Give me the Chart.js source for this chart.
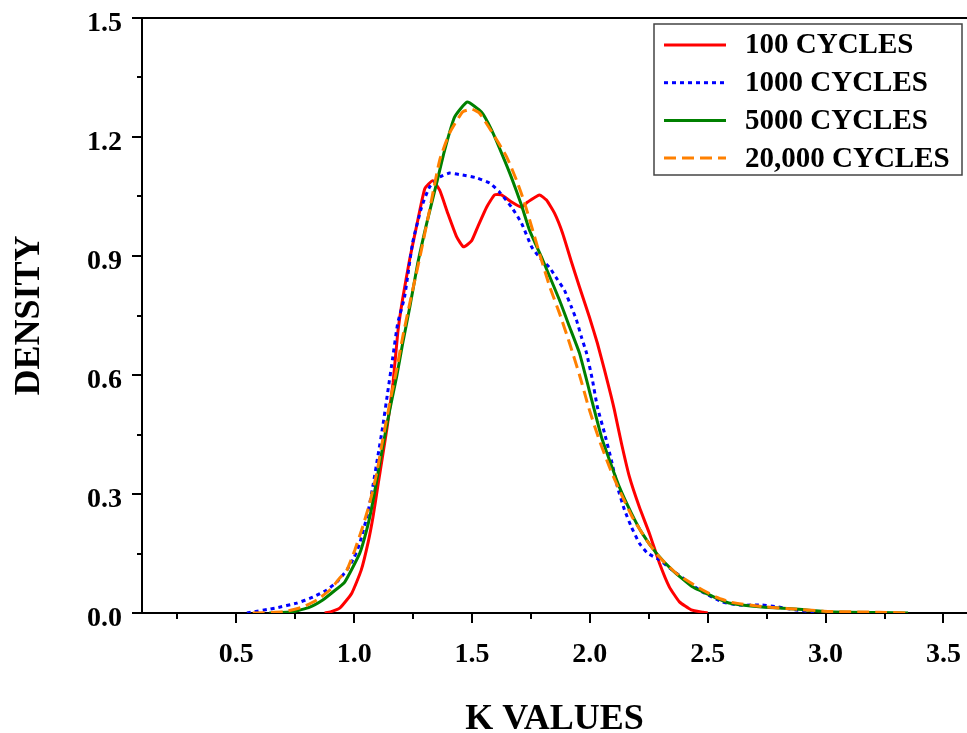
<!DOCTYPE html>
<html>
<head>
<meta charset="utf-8">
<script src="https://cdn.jsdelivr.net/npm/chart.js@4"></script>
<style>
  body { margin: 0; background: #fff; }
  #wrap { width: 967px; height: 733px; position: relative; }
</style>
</head>
<body>
<div id="wrap"><canvas id="grafica"></canvas></div>
<script>
// series labels
var seriesNames = ["100 CYCLES", "1000 CYCLES", "5000 CYCLES", "20,000 CYCLES"];

// 100 cycles
var k100 = [0.875,0.9,0.94,0.99,1.03,1.06,1.08,1.1,1.12,1.14,1.165,1.185,1.205,1.235,1.27,1.3,1.333,1.363,1.397,1.435,1.464,1.498,1.524,1.562,1.596,1.625,1.668,1.71,1.736,1.786,1.816,1.85,1.884,1.922,1.956,1.998,2.032,2.062,2.091,2.104,2.134,2.168,2.21,2.253,2.295,2.337,2.38,2.43,2.48,2.5];
var dens100 = [0,0.003,0.013,0.05,0.108,0.18,0.242,0.318,0.393,0.469,0.58,0.706,0.789,0.89,0.99,1.07,1.09,1.066,1.008,0.948,0.923,0.938,0.973,1.023,1.054,1.054,1.036,1.023,1.036,1.054,1.041,1.008,0.958,0.885,0.822,0.746,0.68,0.613,0.545,0.512,0.428,0.343,0.267,0.2,0.126,0.066,0.028,0.008,0.002,0];

// 1000 cycles
var k1000 = [0.545,0.67,0.757,0.825,0.884,0.926,0.969,1.0,1.024,1.058,1.079,1.1,1.121,1.142,1.164,1.185,1.214,1.248,1.286,1.32,1.363,1.405,1.46,1.52,1.575,1.617,1.668,1.71,1.753,1.786,1.83,1.863,1.892,1.922,1.943,1.964,1.986,2.011,2.032,2.062,2.091,2.117,2.147,2.176,2.21,2.244,2.295,2.35,2.422,2.477,2.562,2.634,2.73,2.8,2.87,2.94,2.97];
var dens1000 = [0,0.013,0.025,0.04,0.058,0.078,0.108,0.14,0.176,0.252,0.318,0.393,0.469,0.555,0.645,0.731,0.797,0.933,1.023,1.074,1.099,1.109,1.104,1.097,1.084,1.061,1.023,0.983,0.923,0.897,0.87,0.84,0.814,0.771,0.739,0.696,0.655,0.587,0.519,0.454,0.386,0.318,0.26,0.217,0.176,0.151,0.134,0.108,0.076,0.053,0.028,0.02,0.02,0.015,0.008,0.003,0];

// 5000 cycles
var k5000 = [0.64,0.74,0.812,0.867,0.91,0.96,1.024,1.053,1.075,1.096,1.121,1.151,1.18,1.206,1.236,1.27,1.308,1.35,1.384,1.426,1.48,1.54,1.583,1.625,1.668,1.71,1.744,1.8,1.871,1.914,1.956,2.011,2.049,2.083,2.125,2.176,2.223,2.282,2.35,2.435,2.536,2.59,2.73,2.87,3.015,3.227,3.35];
var dens5000 = [0,0.003,0.015,0.033,0.053,0.078,0.151,0.209,0.267,0.335,0.418,0.512,0.595,0.68,0.771,0.882,0.983,1.084,1.167,1.25,1.288,1.263,1.218,1.16,1.097,1.028,0.965,0.89,0.789,0.721,0.655,0.53,0.444,0.386,0.318,0.252,0.2,0.151,0.108,0.066,0.038,0.025,0.015,0.01,0.003,0.001,0];

// 20,000 cycles
var k20000 = [0.57,0.697,0.782,0.842,0.897,0.939,0.969,1.003,1.036,1.066,1.096,1.121,1.151,1.18,1.206,1.236,1.28,1.32,1.363,1.405,1.46,1.5,1.532,1.587,1.647,1.689,1.723,1.786,1.83,1.871,1.914,1.956,1.998,2.04,2.083,2.125,2.18,2.24,2.295,2.367,2.464,2.536,2.6,2.73,2.87,3.015,3.227,3.35];
var dens20000 = [0,0.003,0.015,0.033,0.058,0.088,0.108,0.159,0.217,0.277,0.353,0.436,0.529,0.613,0.696,0.781,0.9,1.016,1.142,1.21,1.263,1.27,1.26,1.21,1.15,1.091,1.034,0.907,0.822,0.756,0.68,0.6,0.512,0.436,0.368,0.31,0.242,0.184,0.141,0.1,0.063,0.04,0.027,0.016,0.01,0.004,0.002,0];

// tick positions
var xMajorTicks = [0.5,1.0,1.5,2.0,2.5,3.0,3.5];
var xMinorTicks = [0.25,0.75,1.25,1.75,2.25,2.75,3.25];
var yMajorTicks = [0.0,0.3,0.6,0.9,1.2,1.5];
var yMinorTicks = [0.15,0.45,0.75,1.05,1.35];

var fuente = "'Liberation Serif', 'Times New Roman', serif";

function puntos(xs, ys) {
  var out = [];
  for (var i = 0; i < xs.length; i++) out.push({x: xs[i], y: ys[i]});
  return out;
}

const datos_100 = {
  label: seriesNames[0], data: puntos(k100, dens100),
  borderColor: '#ff0000', borderWidth: 3, borderDash: [], order: 3
};
const datos_1000 = {
  label: seriesNames[1], data: puntos(k1000, dens1000),
  borderColor: '#0000ff', borderWidth: 3, borderDash: [4, 4], order: 2
};
const datos_5000 = {
  label: seriesNames[2], data: puntos(k5000, dens5000),
  borderColor: '#008000', borderWidth: 3, borderDash: [], order: 1
};
const datos_20000 = {
  label: seriesNames[3], data: puntos(k20000, dens20000),
  borderColor: '#ff8000', borderWidth: 3, borderDash: [12, 6], order: 0
};

// marco superior, ticks menores y leyenda con caja
const extras = {
  id: 'extras',
  afterDraw(chart) {
    const ctx = chart.ctx;
    const a = chart.chartArea;
    const xs = chart.scales.x, ys = chart.scales.y;
    ctx.save();
    ctx.strokeStyle = '#000';
    ctx.lineWidth = 2;
    ctx.beginPath();
    ctx.moveTo(a.left - 1, a.top);
    ctx.lineTo(a.right, a.top);
    ctx.stroke();
    ctx.beginPath();
    xMinorTicks.forEach(function (v) {
      const px = Math.round(xs.getPixelForValue(v));
      ctx.moveTo(px, a.bottom);
      ctx.lineTo(px, a.bottom + 6);
    });
    yMinorTicks.forEach(function (v) {
      const py = Math.round(ys.getPixelForValue(v));
      ctx.moveTo(a.left - 5, py);
      ctx.lineTo(a.left, py);
    });
    ctx.stroke();

    // leyenda
    const bx = a.right - 313, by = a.top + 6, bw = 308, bh = 151;
    ctx.fillStyle = '#fff';
    ctx.fillRect(bx, by, bw, bh);
    ctx.strokeStyle = '#444';
    ctx.lineWidth = 1.5;
    ctx.strokeRect(bx, by, bw, bh);
    ctx.font = 'bold 29px ' + fuente;
    ctx.textBaseline = 'middle';
    ctx.textAlign = 'left';
    chart.data.datasets.forEach(function (ds, i) {
      const cy = by + 21 + i * 37.7;
      ctx.strokeStyle = ds.borderColor;
      ctx.lineWidth = 3;
      ctx.setLineDash(ds.borderDash || []);
      ctx.beginPath();
      ctx.moveTo(bx + 10, cy);
      ctx.lineTo(bx + 72, cy);
      ctx.stroke();
      ctx.setLineDash([]);
      ctx.fillStyle = '#000';
      ctx.fillText(ds.label, bx + 91, cy + 1);
    });
    ctx.restore();
  }
};

new Chart(document.getElementById('grafica'), {
  type: 'line',
  data: { datasets: [datos_100, datos_1000, datos_5000, datos_20000] },
  options: {
    responsive: true,
    maintainAspectRatio: false,
    animation: false,
    elements: {
      point: { radius: 0 },
      line: { tension: 0.15, fill: false }
    },
    layout: { padding: { top: 18, right: 0, left: 0, bottom: 0 } },
    plugins: {
      legend: { display: false },
      tooltip: { enabled: false }
    },
    scales: {
      x: {
        type: 'linear',
        min: 0.1,
        max: 3.6,
        afterBuildTicks: function (s) {
          s.ticks = xMajorTicks.map(function (v) { return {value: v}; });
        },
        afterFit: function (s) {
          s.height = 120;
          s.paddingLeft = 0;
          s.paddingRight = 0;
        },
        ticks: {
          color: '#000',
          font: { family: fuente, size: 28, weight: 'bold' },
          padding: 15,
          maxRotation: 0,
          autoSkip: false,
          callback: function (v) { return Number(v).toFixed(1); }
        },
        grid: { drawOnChartArea: false, tickLength: 10, color: '#000', lineWidth: 2 },
        border: { color: '#000', width: 2 },
        title: {
          display: true, text: 'K VALUES', color: '#000',
          font: { family: fuente, size: 36, weight: 'bold', lineHeight: 1 },
          padding: { top: 0, bottom: -5 }
        }
      },
      y: {
        min: 0,
        max: 1.5,
        afterBuildTicks: function (s) {
          s.ticks = yMajorTicks.map(function (v) { return {value: v}; });
        },
        afterFit: function (s) {
          s.width = 142;
          s.paddingTop = 0;
          s.paddingBottom = 0;
        },
        ticks: {
          color: '#000',
          // las etiquetas quedan un poco por debajo de la marca
          font: { family: fuente, size: 28, weight: 'bold', lineHeight: '12px' },
          padding: 10,
          callback: function (v) { return ['', Number(v).toFixed(1)]; }
        },
        grid: { drawOnChartArea: false, tickLength: 10, color: '#000', lineWidth: 2 },
        border: { color: '#000', width: 2 },
        title: {
          display: true, text: 'DENSITY', color: '#000',
          font: { family: fuente, size: 36, weight: 'bold', lineHeight: 1 },
          padding: { top: 12, bottom: 0 }
        }
      }
    }
  },
  plugins: [extras]
});
</script>
</body>
</html>
